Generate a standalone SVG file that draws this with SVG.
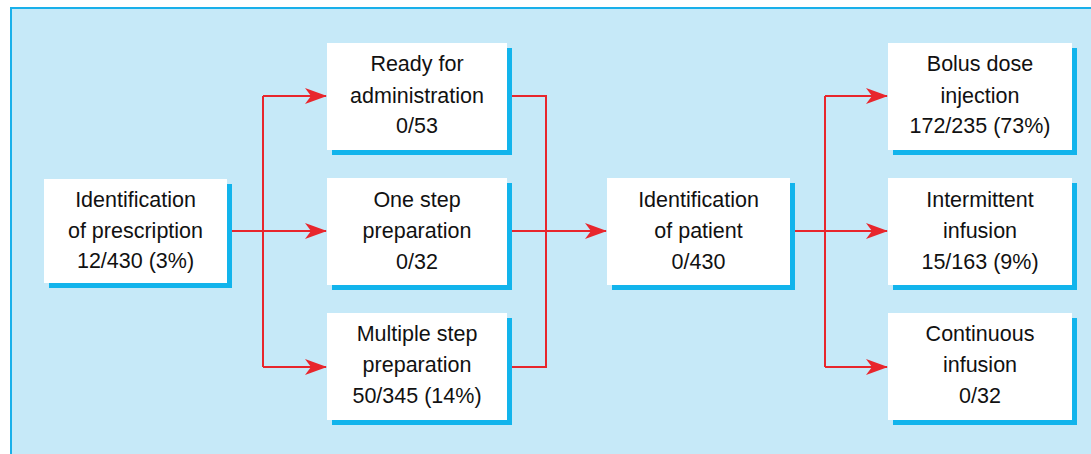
<svg xmlns="http://www.w3.org/2000/svg" width="1091" height="454" viewBox="0 0 1091 454">
<defs>
<style>
.shadow{fill:#12b4ec}
.box{fill:#ffffff}
.t{font-family:"Liberation Sans",Arial,sans-serif;font-size:21.5px;fill:#111;text-anchor:middle}
.c{fill:none;stroke:#e8262c;stroke-width:2}
</style>
<marker id="ah" markerUnits="userSpaceOnUse" viewBox="0 0 22 16" refX="21" refY="8" markerWidth="22" markerHeight="16" orient="auto">
<path d="M0,0 L22,8 L0,16 L6,8 Z" fill="#e8262c"/>
</marker>
</defs>
<rect x="0" y="0" width="1091" height="454" fill="#ffffff"/>
<rect x="11" y="8" width="1100" height="460" fill="#c6e9f8" stroke="#19b0ea" stroke-width="2"/>

<g id="connectors">
<path class="c" d="M227,231 H263"/>
<path class="c" d="M263,96 V367"/>
<path class="c" d="M263,96 H326" marker-end="url(#ah)"/>
<path class="c" d="M263,231 H326" marker-end="url(#ah)"/>
<path class="c" d="M263,367 H326" marker-end="url(#ah)"/>
<path class="c" d="M507,96 H546 V367 H507"/>
<path class="c" d="M507,231 H606" marker-end="url(#ah)"/>
<path class="c" d="M790,231 H825"/>
<path class="c" d="M825,96 V367"/>
<path class="c" d="M825,96 H887" marker-end="url(#ah)"/>
<path class="c" d="M825,231 H887" marker-end="url(#ah)"/>
<path class="c" d="M825,367 H887" marker-end="url(#ah)"/>
</g>

<g id="n-prescription">
<rect class="shadow" x="49" y="184" width="183" height="104"/>
<rect class="box" x="44" y="179" width="183" height="104"/>
<text class="t" x="135.5" y="207">Identification</text>
<text class="t" x="135.5" y="238">of prescription</text>
<text class="t" x="135.5" y="268">12/430 (3%)</text>
</g>

<g id="n-ready">
<rect class="shadow" x="332" y="48" width="180" height="107"/>
<rect class="box" x="327" y="43" width="180" height="107"/>
<text class="t" x="417" y="71">Ready for</text>
<text class="t" x="417" y="103">administration</text>
<text class="t" x="417" y="133">0/53</text>
</g>

<g id="n-onestep">
<rect class="shadow" x="332" y="183" width="180" height="107"/>
<rect class="box" x="327" y="178" width="180" height="107"/>
<text class="t" x="417" y="207">One step</text>
<text class="t" x="417" y="238">preparation</text>
<text class="t" x="417" y="269">0/32</text>
</g>

<g id="n-multistep">
<rect class="shadow" x="332" y="318" width="180" height="107"/>
<rect class="box" x="327" y="313" width="180" height="107"/>
<text class="t" x="417" y="341">Multiple step</text>
<text class="t" x="417" y="372">preparation</text>
<text class="t" x="417" y="403">50/345 (14%)</text>
</g>

<g id="n-patient">
<rect class="shadow" x="612" y="183" width="183" height="107"/>
<rect class="box" x="607" y="178" width="183" height="107"/>
<text class="t" x="698.5" y="207">Identification</text>
<text class="t" x="698.5" y="238">of patient</text>
<text class="t" x="698.5" y="269">0/430</text>
</g>

<g id="n-bolus">
<rect class="shadow" x="893" y="48" width="184" height="107"/>
<rect class="box" x="888" y="43" width="184" height="107"/>
<text class="t" x="980" y="71">Bolus dose</text>
<text class="t" x="980" y="103">injection</text>
<text class="t" x="980" y="133">172/235 (73%)</text>
</g>

<g id="n-intermittent">
<rect class="shadow" x="893" y="183" width="184" height="107"/>
<rect class="box" x="888" y="178" width="184" height="107"/>
<text class="t" x="980" y="207">Intermittent</text>
<text class="t" x="980" y="238">infusion</text>
<text class="t" x="980" y="269">15/163 (9%)</text>
</g>

<g id="n-continuous">
<rect class="shadow" x="893" y="318" width="184" height="107"/>
<rect class="box" x="888" y="313" width="184" height="107"/>
<text class="t" x="980" y="341">Continuous</text>
<text class="t" x="980" y="372">infusion</text>
<text class="t" x="980" y="403">0/32</text>
</g>
</svg>
